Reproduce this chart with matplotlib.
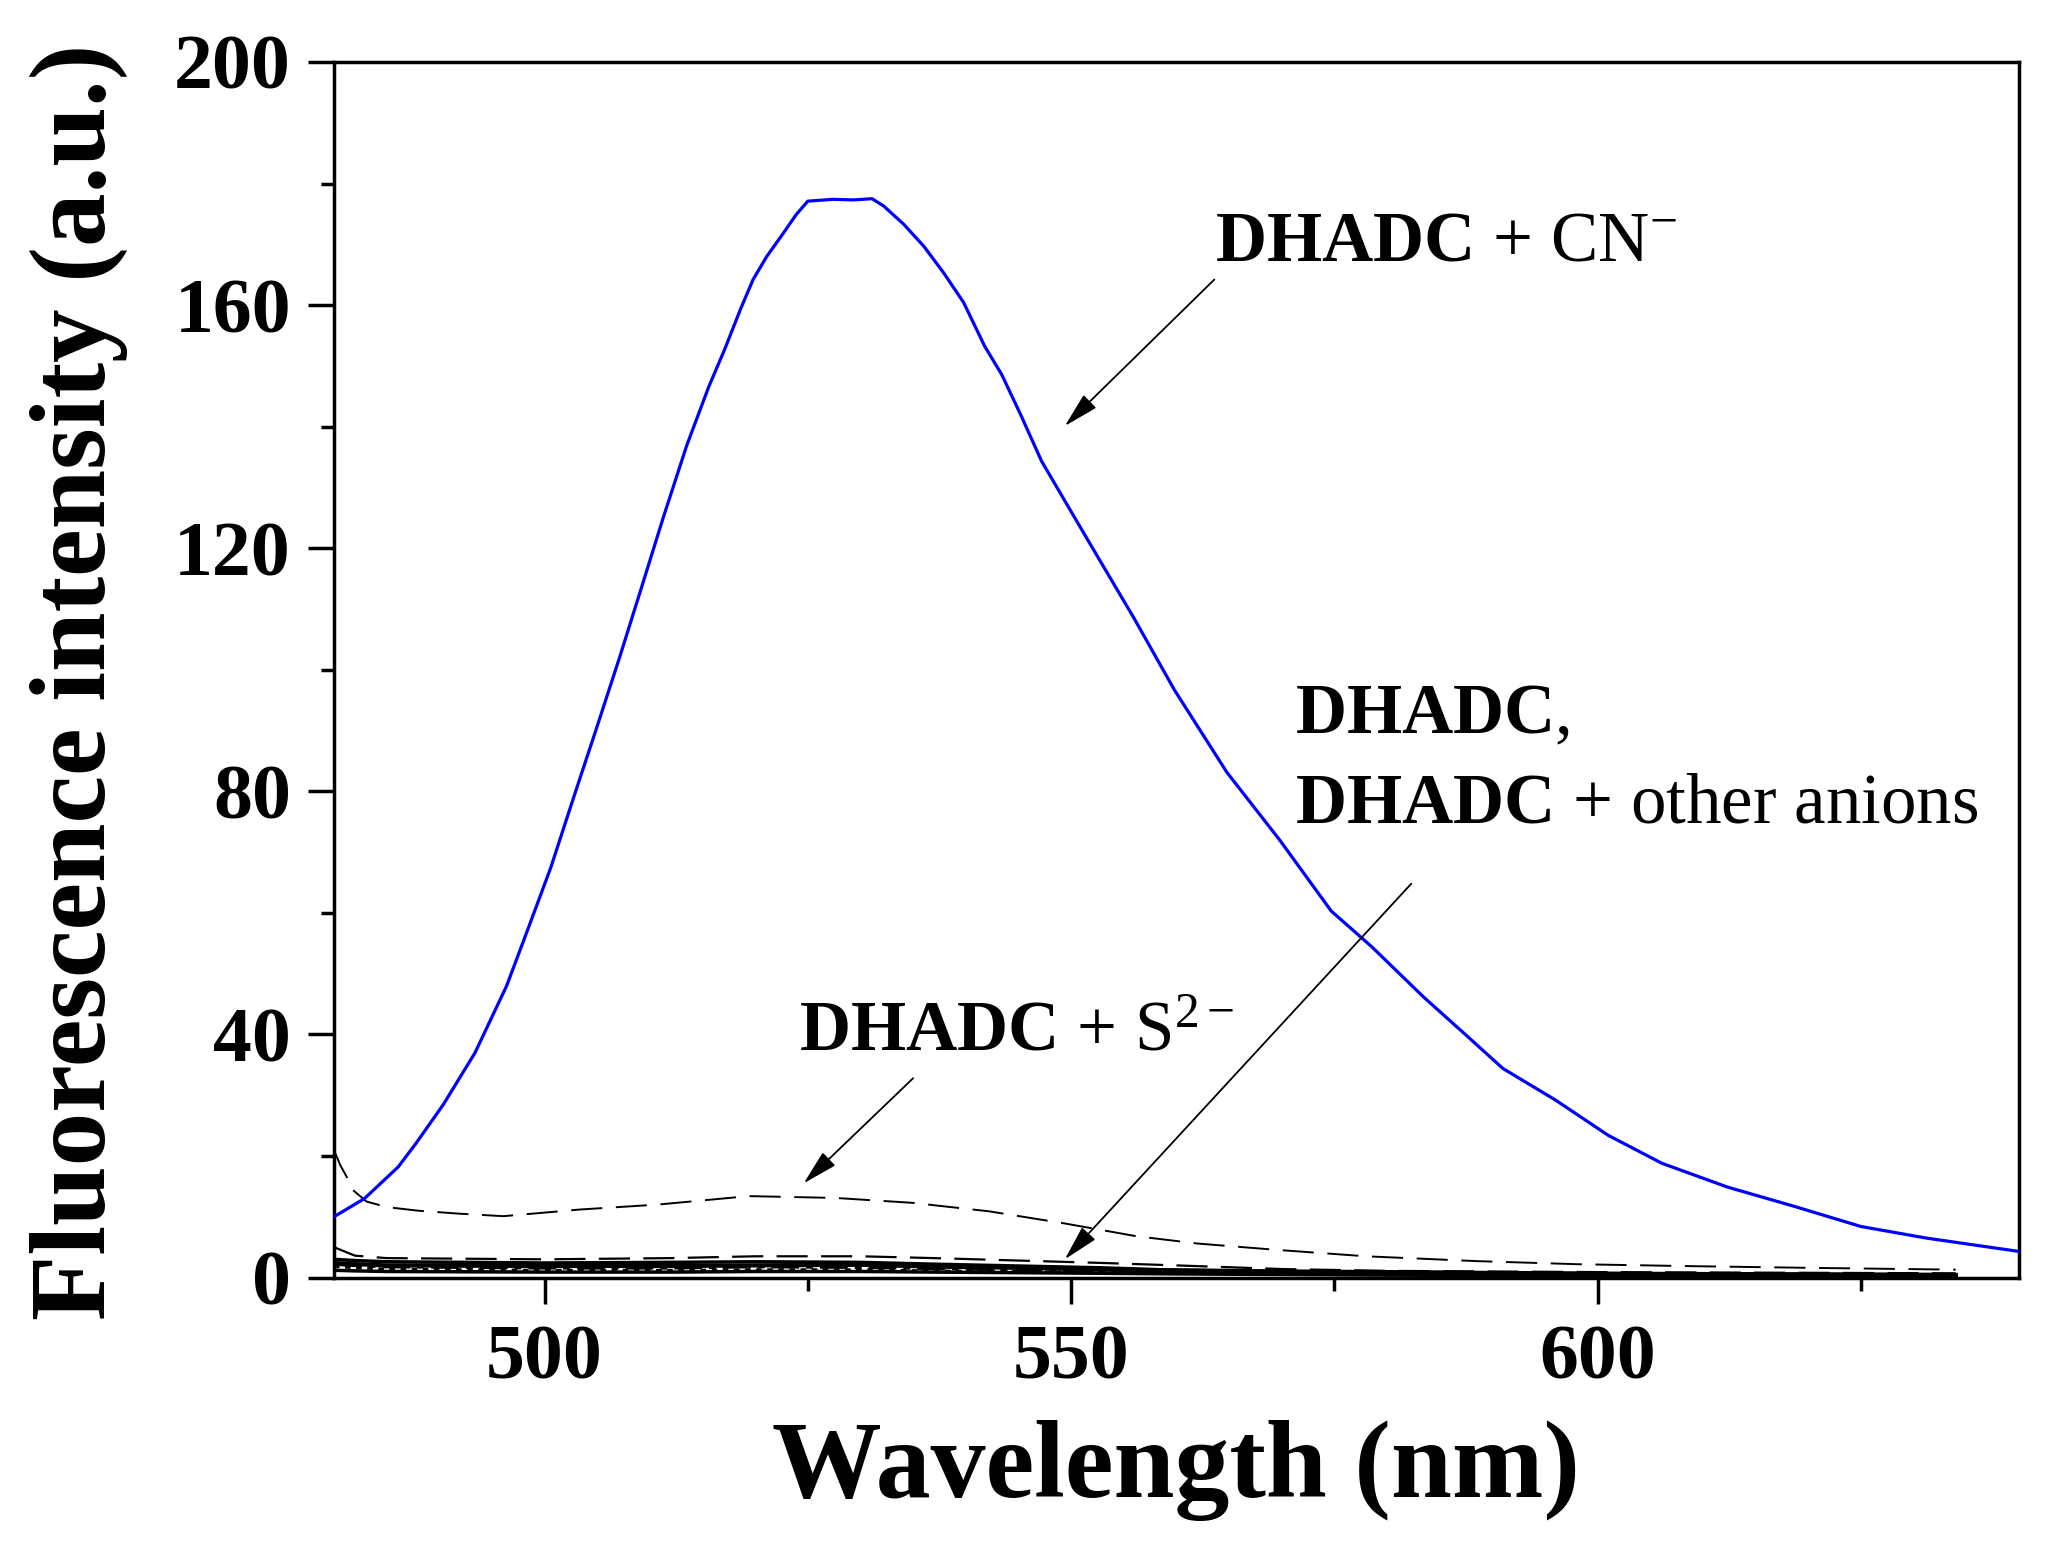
import matplotlib
matplotlib.use("Agg")
import matplotlib.pyplot as plt
from matplotlib.ticker import MultipleLocator

plt.rcParams['font.family'] = ['Liberation Serif', 'DejaVu Serif']
plt.rcParams['mathtext.fontset'] = 'custom'
plt.rcParams['mathtext.rm'] = 'Liberation Serif'
plt.rcParams['mathtext.bf'] = 'Liberation Serif:bold'
plt.rcParams['mathtext.it'] = 'Liberation Serif:italic'

# ---- data ----
cn_wl = [480, 482.9, 486.1, 487.8, 490.4, 493.4, 496.4, 498.5, 500.6, 502.8, 504.9,
         507.1, 509.2, 511.3, 513.5, 515.6, 517.1, 518.6, 519.8, 521.1, 522.7, 523.9,
         525.0, 527.4, 529.3, 531.1, 532.2, 534.1, 536.0, 537.9, 539.8, 541.8, 543.4,
         545.2, 547.2, 549.4, 551.6, 556.0, 559.8, 564.8,
         569.8, 574.7, 578.5, 583.5, 587.3, 591.0, 596.0, 601.0, 606.1, 612.3, 618.7,
         625.0, 631.2, 640.0]
cn_int = [10.0, 13.0, 18.2, 22.1, 28.5, 37.0, 48.0, 57.7, 67.5, 79.2, 90.2,
          101.9, 113.5, 125.2, 136.9, 146.6, 152.7, 159.3, 164.2, 168.0, 171.9, 174.9,
          177.1, 177.4, 177.3, 177.5, 176.3, 173.3, 169.7, 165.3, 160.4, 153.2, 148.6,
          142.0, 134.3, 127.8, 121.3, 108.4, 96.7, 83.1,
          72.0, 60.3, 54.5, 46.1, 40.2, 34.4, 29.2, 23.4, 18.8, 14.9, 11.7,
          8.4, 6.5, 4.3]

s2_wl = [480, 480.6, 481.2, 481.8, 483.1, 485, 488, 492, 496.1, 503.4, 510.7, 519.4,
         527.6, 534.9, 542.2, 549.4, 556.2, 562, 569.2, 578, 588.6, 598, 608, 620, 634]
s2_int = [21.0, 18.5, 16.6, 14.4, 12.5, 11.6, 11.0, 10.5, 10.1, 11.2, 12.0, 13.4,
          13.1, 12.3, 10.9, 8.9, 6.8, 5.6, 4.6, 3.5, 2.7, 2.2, 1.9, 1.6, 1.3]

other_wl = [480, 482, 485, 500, 512, 520, 530, 537, 545, 553, 560, 570, 580, 600, 634]
other1 = [5.0, 3.6, 3.2, 3.0, 3.2, 3.5, 3.5, 3.2, 2.8, 2.4, 2.0, 1.4, 1.1, 0.9, 0.7]
other2 = [3.0, 2.8, 2.6, 2.4, 2.5, 2.6, 2.5, 2.2, 1.9, 1.6, 1.2, 1.0, 0.9, 0.7, 0.5]
other3 = [2.4, 2.2, 2.0, 1.9, 1.9, 2.0, 2.1, 1.8, 1.6, 1.3, 1.2, 1.0, 0.9, 0.6, 0.4]
other4 = [2.2, 2.0, 1.8, 1.6, 1.6, 1.8, 1.7, 1.5, 1.3, 1.1, 0.9, 0.8, 0.7, 0.6, 0.4]
other5 = [1.8, 1.6, 1.4, 1.2, 1.2, 1.3, 1.3, 1.1, 1.0, 0.8, 0.7, 0.6, 0.6, 0.4, 0.3]
other6 = [1.2, 1.1, 1.0, 0.9, 0.9, 1.0, 1.0, 0.9, 0.8, 0.7, 0.6, 0.5, 0.4, 0.3, 0.3]

xticks = [500, 550, 600]
yticks = [0, 40, 80, 120, 160, 200]

# ---- figure ----
fig = plt.figure(figsize=(20.69, 15.45), dpi=100)
ax = fig.add_axes([0.1614, 0.1731, 0.8144, 0.7868])

ax.plot(other_wl, other6, color='black', lw=2.5, ls='-')
ax.plot(other_wl, other5, color='black', lw=2.0, ls=(0, (2, 2)))
ax.plot(other_wl, other4, color='black', lw=2.5, ls=(0, (8, 2, 2, 2)))
ax.plot(other_wl, other3, color='black', lw=3.0, ls='-')
ax.plot(other_wl, other2, color='black', lw=2.5, ls='-')
ax.plot(other_wl, other1, color='black', lw=1.6, ls=(0, (14, 6)))
ax.plot(s2_wl, s2_int, color='black', lw=1.4, ls=(0, (16, 7)))
ax.plot(cn_wl, cn_int, color='#0000FF', lw=2.3, zorder=5)

ax.set_xlim(480, 640)
ax.set_ylim(0, 200)
ax.set_xticks(xticks)
ax.set_yticks(yticks)
ax.xaxis.set_minor_locator(MultipleLocator(25))
ax.yaxis.set_minor_locator(MultipleLocator(20))
for sp in ax.spines.values():
    sp.set_linewidth(2.5)
ax.tick_params(which='major', direction='out', length=19, width=2.5,
               top=False, right=False)
ax.tick_params(which='minor', direction='out', length=9.5, width=2.5,
               top=False, right=False)
ax.tick_params(axis='y', which='major', pad=12)
ax.tick_params(axis='x', which='major', pad=15)
for lab in ax.get_xticklabels() + ax.get_yticklabels():
    lab.set_fontsize(56)
    lab.set_fontweight('bold')

ax.set_xlabel('Wavelength (nm)', fontsize=79, fontweight='bold')
ax.set_ylabel('Fluorescence intensity (a.u.)', fontsize=77, fontweight='bold')
ax.xaxis.set_label_coords(0.5, -0.117)
ax.yaxis.set_label_coords(-0.122, 0.49)

# ---- annotations ----
tfs = 51
ax.text(563.7, 167.4, r'$\mathbf{DHADC}$ + CN$^{-}$', fontsize=tfs,
        ha='left', va='baseline')
ax.text(524.2, 37.3, r'$\mathbf{DHADC}$ + S$^{2-}$', fontsize=tfs,
        ha='left', va='baseline')
ax.text(571.3, 89.6, r'$\mathbf{DHADC},$', fontsize=tfs, ha='left', va='baseline')
ax.text(571.3, 74.9, r'$\mathbf{DHADC}$ + other anions', fontsize=tfs,
        ha='left', va='baseline')

arrow_kw = dict(arrowstyle='-|>,head_length=1.1,head_width=0.28', color='black',
                lw=1.3, shrinkA=0, shrinkB=0, mutation_scale=20)
ax.annotate('', xy=(549.4, 140.1), xytext=(563.6, 164.2), arrowprops=arrow_kw, zorder=6)
ax.annotate('', xy=(524.6, 15.5), xytext=(535.0, 32.8), arrowprops=arrow_kw, zorder=6)
ax.annotate('', xy=(549.4, 3.0), xytext=(582.3, 64.8), arrowprops=arrow_kw, zorder=6)

fig.savefig('out.png', dpi=100, facecolor='white')
